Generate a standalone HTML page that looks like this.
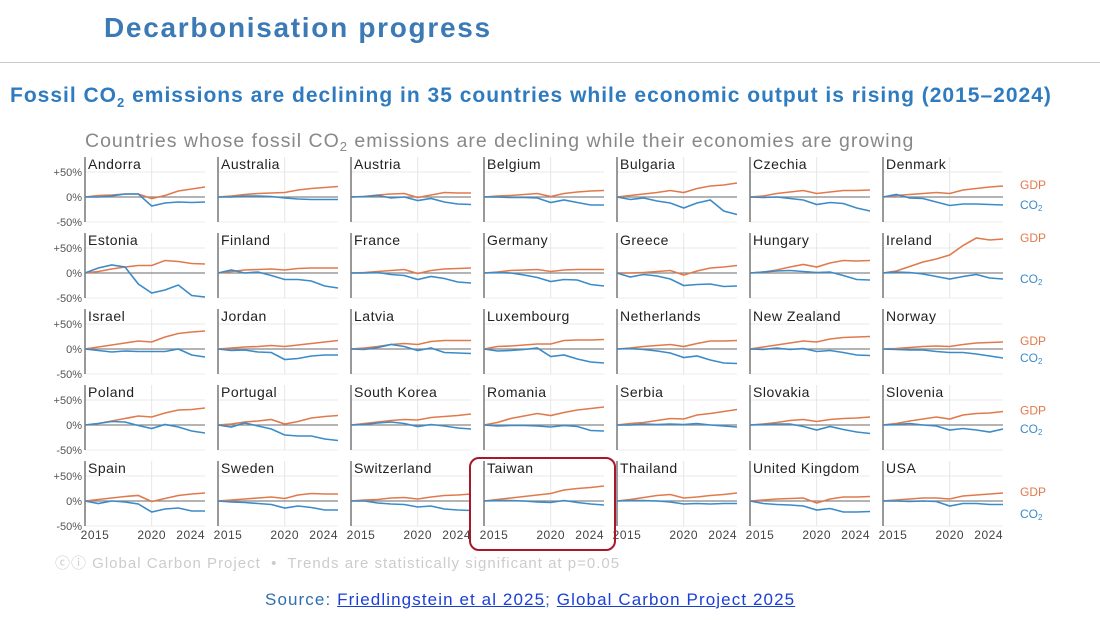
<!DOCTYPE html>
<html><head><meta charset="utf-8"><style>
body{margin:0;width:1100px;height:620px;background:#fff;overflow:hidden;font-family:"Liberation Sans",sans-serif;position:relative}
.t{position:absolute;white-space:nowrap}
</style></head><body>
<div class="t" style="left:104px;top:12px;font-size:28px;font-weight:bold;letter-spacing:1.7px;color:#3b7ab5">Decarbonisation progress</div>
<div style="position:absolute;left:0;top:62px;width:1100px;height:1px;background:#ccc"></div>
<div class="t" style="left:10px;top:84px;font-size:21px;font-weight:bold;letter-spacing:1px;color:#2f7bbf">Fossil CO<sub style="font-size:13px">2</sub> emissions are declining in 35 countries while economic output is rising (2015–2024)</div>
<svg id="s" width="1100" height="620" style="position:absolute;left:0;top:0" font-family="Liberation Sans, sans-serif"></svg>
<div class="t" style="left:55px;top:552px;font-size:15px;letter-spacing:1px;color:#ccc">ⓒⓘ Global Carbon Project &nbsp;•&nbsp; Trends are statistically significant at p=0.05</div>
<div class="t" style="left:265px;top:590px;font-size:17px;letter-spacing:1.1px;color:#2f6fb0">Source: <u style="color:#1a3fd6">Friedlingstein et al 2025</u>; <u style="color:#1a3fd6">Global Carbon Project 2025</u></div>
<script>
const D=[
["Andorra",[0,3,4,6,6,-3,3,12,16,20],[0,0,2,6,6,-18,-12,-10,-11,-10]],
["Australia",[0,2,5,7,8,9,14,17,19,21],[0,0,2,2,1,-2,-4,-5,-5,-5]],
["Austria",[0,1,4,6,7,-1,4,9,8,8],[0,1,3,-2,0,-7,-3,-10,-14,-15]],
["Belgium",[0,2,3,5,7,1,7,10,12,13],[0,0,-1,-1,-2,-11,-6,-11,-16,-16]],
["Bulgaria",[0,3,6,9,13,9,17,22,24,28],[0,-5,-2,-8,-12,-22,-12,-6,-28,-35]],
["Czechia",[0,2,7,10,13,7,10,13,13,14],[0,-1,0,-3,-6,-15,-11,-13,-22,-28]],
["Denmark",[0,3,5,7,9,7,14,17,20,22],[0,5,-2,-3,-10,-17,-14,-14,-15,-16]],
["Estonia",[0,3,8,12,15,15,25,23,19,18],[0,10,16,12,-22,-40,-34,-24,-45,-48]],
["Finland",[0,3,6,7,8,6,9,10,10,10],[0,6,0,2,-5,-13,-13,-16,-26,-30]],
["France",[0,1,3,5,7,-1,5,8,9,10],[0,0,1,-3,-5,-13,-7,-11,-18,-20]],
["Germany",[0,2,5,6,7,3,6,7,7,7],[0,1,0,-4,-9,-17,-13,-14,-23,-26]],
["Greece",[0,0,1,3,5,-4,4,10,12,15],[0,-8,-3,-6,-12,-25,-23,-22,-27,-26]],
["Hungary",[0,2,6,12,17,12,20,25,24,25],[0,2,4,5,3,1,2,-5,-13,-14]],
["Ireland",[0,4,13,22,28,36,55,70,66,68],[0,2,1,-2,-7,-12,-7,-3,-10,-12]],
["Israel",[0,4,8,12,16,14,24,31,34,36],[0,-3,-6,-4,-5,-5,-5,0,-12,-16]],
["Jordan",[0,2,4,5,7,5,8,11,14,17],[0,-3,-2,-6,-7,-21,-19,-14,-12,-12]],
["Latvia",[0,2,5,9,11,9,15,17,17,17],[0,-1,3,9,5,-3,2,-7,-8,-9]],
["Luxembourg",[0,5,6,8,10,10,17,18,18,19],[0,-4,-3,-1,2,-15,-12,-20,-26,-28]],
["Netherlands",[0,2,5,7,9,5,11,16,16,17],[0,1,-1,-4,-8,-17,-14,-22,-28,-29]],
["New Zealand",[0,4,8,12,16,14,20,23,24,25],[0,-1,2,-1,1,-5,-3,-7,-12,-13]],
["Norway",[0,1,3,5,6,5,9,12,13,14],[0,-1,-2,-2,-5,-7,-7,-10,-14,-18]],
["Poland",[0,3,8,13,18,16,24,30,31,34],[0,3,7,6,-1,-7,1,-4,-12,-16]],
["Portugal",[0,2,6,8,11,2,7,14,17,19],[0,-4,4,-2,-8,-20,-22,-22,-28,-31]],
["South Korea",[0,3,6,9,11,10,15,17,19,22],[0,1,4,6,3,-3,1,-2,-6,-8]],
["Romania",[0,5,13,18,23,19,25,30,33,36],[0,-2,-1,-1,-2,-4,-1,-3,-11,-12]],
["Serbia",[0,3,5,9,13,12,20,23,27,31],[0,0,2,1,2,1,3,0,-2,-4]],
["Slovakia",[0,2,5,9,11,7,11,13,14,16],[0,1,2,2,-3,-10,-3,-9,-14,-17]],
["Slovenia",[0,3,8,12,16,12,20,23,24,27],[0,1,3,0,-2,-10,-7,-10,-14,-8]],
["Spain",[0,3,6,9,11,-1,5,11,14,16],[0,-5,0,-2,-6,-22,-16,-14,-20,-20]],
["Sweden",[0,2,4,6,8,5,12,15,14,14],[0,-2,-3,-5,-7,-14,-10,-13,-18,-18]],
["Switzerland",[0,2,3,6,7,4,8,11,12,14],[0,0,-4,-6,-7,-12,-10,-16,-18,-19]],
["Taiwan",[0,3,6,9,12,15,22,25,27,30],[0,1,1,0,-2,-3,1,-3,-6,-8]],
["Thailand",[0,3,7,11,13,6,8,11,13,16],[0,1,1,0,-2,-6,-5,-6,-5,-5]],
["United Kingdom",[0,2,4,5,6,-4,4,8,8,9],[0,-5,-7,-8,-10,-18,-15,-22,-22,-21]],
["USA",[0,2,4,6,6,4,10,12,14,16],[0,0,-1,0,-1,-10,-5,-5,-7,-7]]];
let h='<text x="85" y="147" font-size="19.5" letter-spacing="1" fill="#888">Countries whose fossil CO<tspan font-size="13" dy="4">2</tspan><tspan dy="-4"> emissions are declining while their economies are growing</tspan></text>';
const W=120,X0=85,DX=133,Y0=197,DY=76,K=0.5;
D.forEach((d,i)=>{const c=i%7,r=Math.floor(i/7),x=X0+c*DX,z=Y0+r*DY;
const top=z-40,bot=z+25;
h+=`<line x1="${x}" x2="${x+W}" y1="${z-25}" y2="${z-25}" stroke="#e8e8e8"/>`;
h+=`<line x1="${x}" x2="${x+W}" y1="${bot}" y2="${bot}" stroke="#ececec"/>`;
h+=`<line x1="${x+W*5/9}" x2="${x+W*5/9}" y1="${top}" y2="${bot}" stroke="#e6e6e6"/>`;
h+=`<line x1="${x}" x2="${x+W}" y1="${z}" y2="${z}" stroke="#888" stroke-width="1.3"/>`;
h+=`<line x1="${x}" x2="${x}" y1="${top}" y2="${bot}" stroke="#777" stroke-width="1.5"/>`;
h+=`<text x="${x+3}" y="${top+12}" font-size="14" letter-spacing="0.5" fill="#222">${d[0]}</text>`;
const p=a=>a.map((v,j)=>(x+j*W/9).toFixed(1)+','+(z-v*K).toFixed(1)).join(' ');
h+=`<polyline points="${p(d[1])}" fill="none" stroke="#e07a4c" stroke-width="1.6"/>`;
h+=`<polyline points="${p(d[2])}" fill="none" stroke="#3b8bc9" stroke-width="1.6"/>`;
if(c==0){h+=`<text x="${x-3}" y="${z-21}" font-size="11" fill="#555" text-anchor="end">+50%</text><text x="${x-3}" y="${z+4}" font-size="11" fill="#555" text-anchor="end">0%</text><text x="${x-3}" y="${z+29}" font-size="11" fill="#555" text-anchor="end">-50%</text>`;}
if(r==4){h+=`<text x="${x+10}" y="${z+38}" font-size="12" letter-spacing="0.5" text-anchor="middle" fill="#444">2015</text><text x="${x+W*5/9}" y="${z+38}" font-size="12" letter-spacing="0.5" text-anchor="middle" fill="#444">2020</text><text x="${x+W}" y="${z+38}" font-size="12" letter-spacing="0.5" text-anchor="end" fill="#444">2024</text>`;}
if(c==6){const g=d[1][9],e=d[2][9];let gy=z-g*K+4,ey=z-e*K+4;if(ey-gy<16){ey=gy+21}
h+=`<text x="1020" y="${Math.max(gy-1,top+2)}" font-size="12" fill="#e07a4c">GDP</text><text x="1020" y="${ey}" font-size="12" fill="#3b8bc9">CO<tspan font-size="8" dy="2">2</tspan></text>`;}
});
h+='<rect x="470" y="458" width="145" height="92" rx="9" fill="none" stroke="#a8182a" stroke-width="2"/>';
document.getElementById('s').innerHTML=h;
</script>
</body></html>
